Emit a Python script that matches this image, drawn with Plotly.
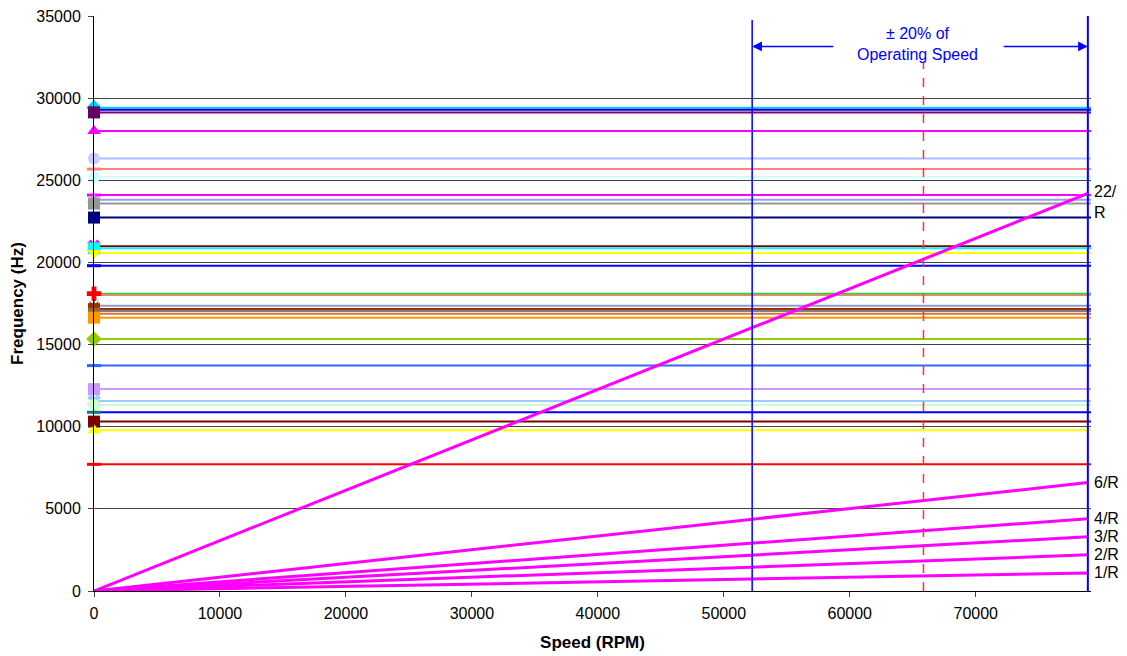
import plotly.graph_objects as go

# ---- data ----
speed_axis_max = 79150
band_low_speed = 52250
operating_speed = 65850
band_high_speed = 78900

mode_freqs = [29420, 29300, 29130, 28000, 26330, 25680, 25200, 24100, 23820, 23580,
              22730, 20980, 20860, 20570, 19800, 18100, 18020, 17360, 17160, 17040,
              16880, 16640, 15340, 13720, 12290, 11560, 11320, 10880, 10310, 9780, 7710]
mode_line_colors = ["#00CCFF", "#0000CC", "#800080", "#FF00FF", "#A8BFFF", "#FF8080", "#CCFFFF",
                    "#FF00FF", "#9999FF", "#969696", "#000080", "#800000", "#00FFFF", "#FFFF00",
                    "#0000FF", "#33CC33", "#CC9966", "#9999CC", "#993300", "#808080", "#E07040",
                    "#FF9900", "#99CC00", "#3366FF", "#CC99FF", "#99CCFF", "#CCFFCC", "#0000FF",
                    "#800000", "#FFFF00", "#FF0000"]
mode_marker_symbols = ["diamond", None, "square", "triangle-up", "circle", "line-ew", "circle",
                       "line-ew", "triangle-up", "square", "square", "x", "square", "triangle-down",
                       "line-ew", "cross", None, "asterisk-open", "square", None, "square",
                       "square", "diamond", "line-ew", "square", "x", "circle", "line-ew",
                       "square", "triangle-up", "line-ew"]
mode_marker_colors = ["#00CCFF", None, "#660066", "#FF00FF", "#CCCCFF", "#FF8080", "#CCFFFF",
                      "#FF00FF", "#9999FF", "#969696", "#000080", "#FF00CC", "#00FFFF", "#FFFF00",
                      "#0000FF", "#FF0000", None, "#000000", "#993300", None, "#996633",
                      "#FF9900", "#99CC00", "#3366FF", "#CC99FF", "#99CCFF", "#CCFFCC", "#008080",
                      "#800000", "#FFFF00", "#FF0000"]

orders = [1, 2, 3, 4, 6, 22]
order_labels = ["1/R", "2/R", "3/R", "4/R", "6/R", "22/<br>R"]
order_speeds = [0, band_high_speed]
hz_per_order_at_band_high = 1100

x_ticks = [0, 10000, 20000, 30000, 40000, 50000, 60000, 70000]
y_ticks = [0, 5000, 10000, 15000, 20000, 25000, 30000, 35000]

FONT = "Arial, Liberation Sans, sans-serif"

fig = go.Figure()

# horizontal natural-frequency lines
for f, lc in zip(mode_freqs, mode_line_colors):
    fig.add_trace(go.Scatter(x=[0, speed_axis_max], y=[f, f], mode="lines",
                             line=dict(color=lc, width=2), showlegend=False,
                             hoverinfo="skip"))

# markers at zero speed
for f, sym, mc in zip(mode_freqs, mode_marker_symbols, mode_marker_colors):
    if sym is None:
        continue
    if sym in ("line-ew", "asterisk-open"):
        mk = dict(symbol=sym, size=10, color=mc, line=dict(color=mc, width=3 if sym == "line-ew" else 1))
    else:
        mk = dict(symbol=sym, size=12, color=mc, line=dict(width=0))
    fig.add_trace(go.Scatter(x=[0], y=[f], mode="markers", marker=mk,
                             cliponaxis=False, showlegend=False, hoverinfo="skip"))

# order lines
for o, lab in zip(orders, order_labels):
    ys = [o * hz_per_order_at_band_high * s / band_high_speed for s in order_speeds]
    fig.add_trace(go.Scatter(x=order_speeds, y=ys, mode="lines",
                             line=dict(color="#FF00FF", width=3), showlegend=False,
                             cliponaxis=False, hoverinfo="skip"))
    fig.add_annotation(x=order_speeds[-1], y=ys[-1], text=lab, showarrow=False,
                       xanchor="left", yanchor="top" if o == 22 else "middle",
                       yshift=12 if o == 22 else 0, xshift=4, align="left",
                       font=dict(family=FONT, size=16, color="#000000"))

# operating band lines
fig.add_shape(type="line", xref="x", yref="y", x0=band_low_speed, x1=band_low_speed,
              y0=0, y1=34750, line=dict(color="#0000FF", width=1.5))
fig.add_shape(type="line", xref="x", yref="y", x0=band_high_speed, x1=band_high_speed,
              y0=0, y1=35000, line=dict(color="#0000FF", width=2))
fig.add_shape(type="line", xref="x", yref="y", x0=operating_speed, x1=operating_speed,
              y0=0, y1=32200, line=dict(color="#FF3333", width=1.5, dash="dash"))

# band arrows + text
arrow_y = 33150
fig.add_annotation(x=band_low_speed, y=arrow_y, ax=58800, ay=arrow_y, axref="x", ayref="y",
                   xref="x", yref="y", text="", showarrow=True, arrowhead=2, arrowsize=1.3,
                   arrowwidth=1.5, arrowcolor="#0000FF")
fig.add_annotation(x=band_high_speed, y=arrow_y, ax=72100, ay=arrow_y, axref="x", ayref="y",
                   xref="x", yref="y", text="", showarrow=True, arrowhead=2, arrowsize=1.3,
                   arrowwidth=1.5, arrowcolor="#0000FF")
fig.add_annotation(x=65380, y=33300, text="± 20% of<br>Operating Speed", showarrow=False,
                   xanchor="center", yanchor="middle",
                   font=dict(family=FONT, size=16, color="#0000FF"))

fig.update_layout(
    width=1127, height=656,
    margin=dict(l=94, r=36, t=16, b=65),
    paper_bgcolor="white", plot_bgcolor="white",
    font=dict(family=FONT, size=16, color="#000000"),
    xaxis=dict(range=[0, speed_axis_max], tickvals=x_ticks, tickformat="d", ticks="outside",
               ticklen=5, automargin=False, ticklabelstandoff=3,
               showgrid=False, zeroline=False, showline=True, linecolor="#000000", linewidth=1,
               title=dict(text="<b>Speed (RPM)</b>", font=dict(size=17), standoff=14),
               tickfont=dict(size=16)),
    yaxis=dict(range=[0, 35000], tickvals=y_ticks, tickformat="d", ticks="outside", ticklen=5,
               automargin=False, ticklabelstandoff=4,
               showgrid=True, gridcolor="#444444", gridwidth=1, zeroline=False,
               showline=True, linecolor="#000000", linewidth=1,
               title=dict(text="<b>Frequency (Hz)</b>", font=dict(size=17), standoff=8),
               tickfont=dict(size=16)),
)

fig.write_html("out.html", config={"displayModeBar": False},
               post_script="document.body.style.margin='0px';document.body.style.overflow='hidden';")
